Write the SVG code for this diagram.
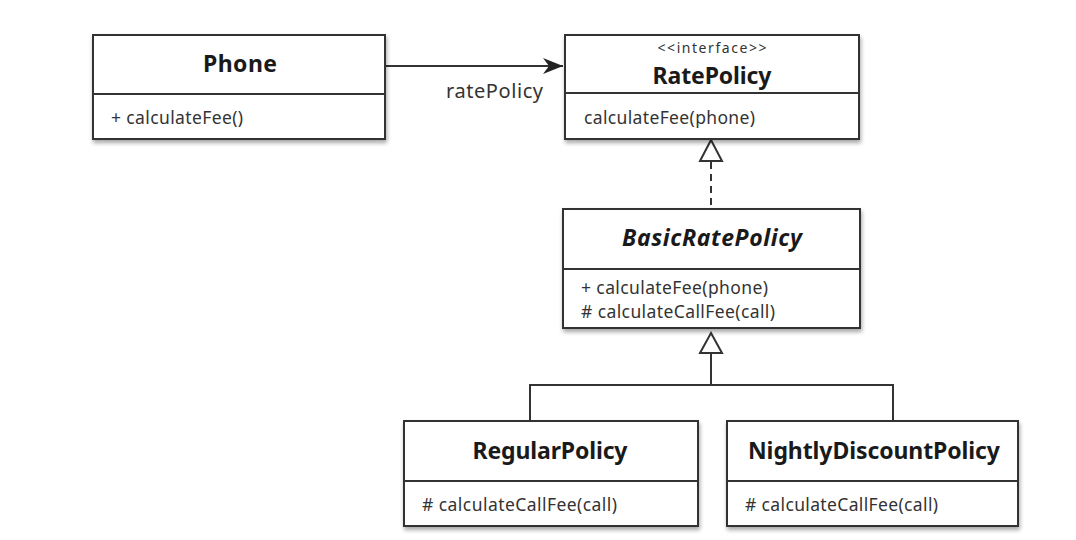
<svg xmlns="http://www.w3.org/2000/svg" width="1076" height="540" viewBox="0 0 1076 540">
<defs>
<filter id="sh" x="-5%" y="-5%" width="115%" height="125%">
<feGaussianBlur in="SourceAlpha" stdDeviation="2"/>
<feOffset dx="1" dy="3" result="b"/>
<feComponentTransfer><feFuncA type="linear" slope="0.35"/></feComponentTransfer>
<feMerge><feMergeNode/><feMergeNode in="SourceGraphic"/></feMerge>
</filter>
<marker id="arrow" viewBox="0 0 20 16" refX="20" refY="8" markerWidth="20" markerHeight="16" markerUnits="userSpaceOnUse" orient="auto">
<path d="M0,0 L20,8 L0,16 L6,8 Z" fill="#222"/>
</marker>
</defs>
<style>
.box{fill:#fff;stroke:#333;stroke-width:2}
.div{stroke:#333;stroke-width:2}
.t{font-family:"Noto Sans","Open Sans",sans-serif;font-weight:bold;font-size:23px;fill:#1a1a1a;text-anchor:middle}
.m{font-family:"Noto Sans","Open Sans",sans-serif;font-size:17.5px;fill:#333}
.s{font-family:"Noto Sans","Open Sans",sans-serif;font-size:14px;fill:#333;text-anchor:middle}
.l{font-family:"Noto Sans","Open Sans",sans-serif;font-size:20px;fill:#333}
.c{fill:none;stroke:#333;stroke-width:2}
.tri{fill:#fff;stroke:#333;stroke-width:2}
</style>
<rect width="1076" height="540" fill="#fff"/>
<g id="connectors">
<line class="c" x1="385" y1="66" x2="563" y2="66" marker-end="url(#arrow)"/>
<text class="l" x="446" y="98" textLength="97" lengthAdjust="spacing">ratePolicy</text>
<line class="c" x1="711" y1="162" x2="711" y2="209" stroke-dasharray="7,5"/>
<path class="tri" d="M711,140 L722,161 L700,161 Z"/>
<line class="c" x1="711" y1="353" x2="711" y2="385"/>
<path class="tri" d="M711,333 L722,353 L700,353 Z"/>
<polyline class="c" points="530,421 530,385 893,385 893,421"/>
</g>
<g id="Phone">
<rect class="box" x="93" y="35" width="292" height="104" filter="url(#sh)"/>
<line class="div" x1="93" y1="94" x2="385" y2="94"/>
<text class="t" x="240" y="72" textLength="74" lengthAdjust="spacing">Phone</text>
<text class="m" x="111" y="124" textLength="132" lengthAdjust="spacing">+ calculateFee()</text>
</g>
<g id="RatePolicy">
<rect class="box" x="565" y="35" width="294" height="104" filter="url(#sh)"/>
<line class="div" x1="565" y1="93" x2="859" y2="93"/>
<text class="s" x="712" y="53" textLength="109" lengthAdjust="spacing">&lt;&lt;interface&gt;&gt;</text>
<text class="t" x="712" y="84" font-size="22" textLength="119" lengthAdjust="spacing">RatePolicy</text>
<text class="m" x="584" y="124" textLength="171" lengthAdjust="spacing">calculateFee(phone)</text>
</g>
<g id="BasicRatePolicy">
<rect class="box" x="563" y="209" width="297" height="119" filter="url(#sh)"/>
<line class="div" x1="563" y1="269" x2="860" y2="269"/>
<text class="t" x="712" y="246" font-style="italic" textLength="180" lengthAdjust="spacing">BasicRatePolicy</text>
<text class="m" x="581" y="294" textLength="187" lengthAdjust="spacing">+ calculateFee(phone)</text>
<text class="m" x="581" y="318" textLength="194" lengthAdjust="spacing"># calculateCallFee(call)</text>
</g>
<g id="RegularPolicy">
<rect class="box" x="404" y="421" width="294" height="105" filter="url(#sh)"/>
<line class="div" x1="404" y1="481" x2="698" y2="481"/>
<text class="t" x="550" y="459" textLength="155" lengthAdjust="spacing">RegularPolicy</text>
<text class="m" x="422" y="511" textLength="195" lengthAdjust="spacing"># calculateCallFee(call)</text>
</g>
<g id="NightlyDiscountPolicy">
<rect class="box" x="727" y="421" width="291" height="105" filter="url(#sh)"/>
<line class="div" x1="727" y1="481" x2="1018" y2="481"/>
<text class="t" x="874" y="459" textLength="252" lengthAdjust="spacing">NightlyDiscountPolicy</text>
<text class="m" x="745" y="511" textLength="193" lengthAdjust="spacing"># calculateCallFee(call)</text>
</g>
</svg>
